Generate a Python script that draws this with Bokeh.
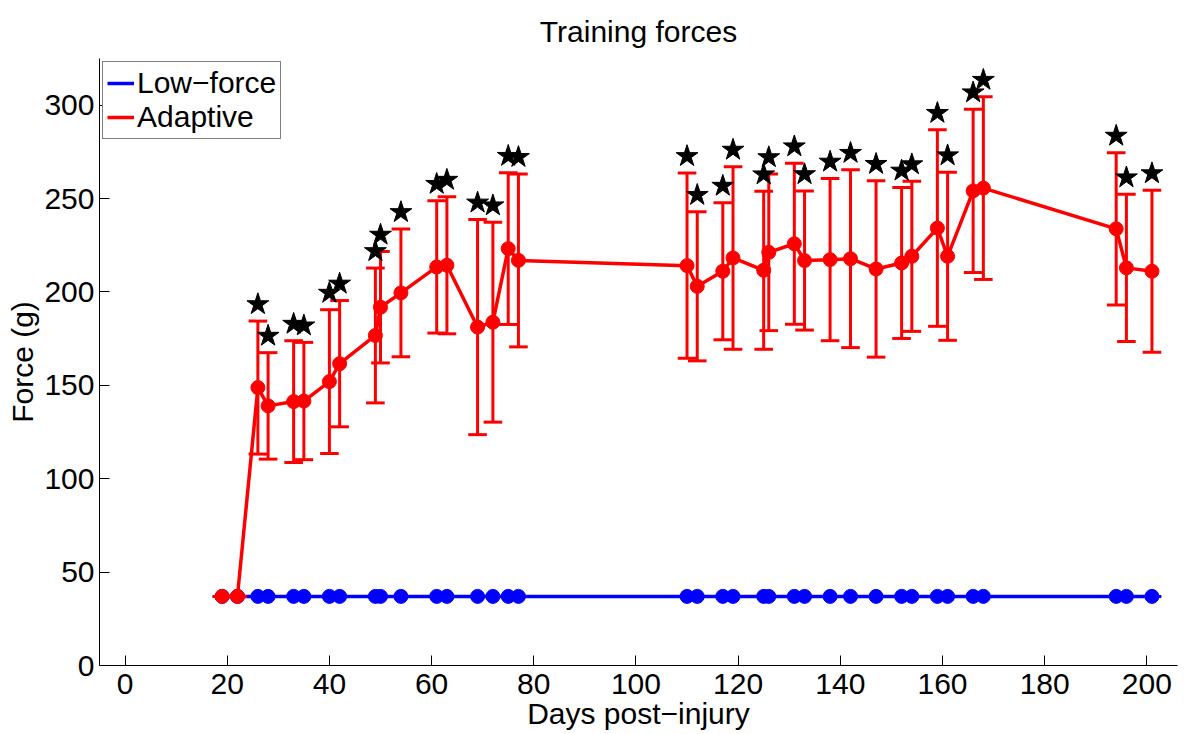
from bokeh.plotting import figure
from bokeh.models import Range1d, FixedTicker, Legend, LegendItem, ColumnDataSource
from bokeh.embed import file_html
from bokeh.resources import INLINE

# Training sessions (days after injury)
days = [19, 22, 26, 28, 33, 35, 40, 42, 49, 50, 54, 61, 63, 69, 72, 75, 77,
        110, 112, 117, 119, 125, 126, 131, 133, 138, 142, 147, 152, 154, 159,
        161, 166, 168, 194, 196, 201]

# Low-force group: fixed training force (g)
low_force_mean = [37, 37, 37, 37, 37, 37, 37, 37, 37, 37, 37, 37, 37, 37, 37,
                  37, 37, 37, 37, 37, 37, 37, 37, 37, 37, 37, 37, 37, 37, 37,
                  37, 37, 37, 37, 37, 37, 37]
low_force_sd = [0, 0, 0, 0, 0, 0, 0, 0, 0, 0, 0, 0, 0, 0, 0, 0, 0, 0, 0, 0,
                0, 0, 0, 0, 0, 0, 0, 0, 0, 0, 0, 0, 0, 0, 0, 0, 0]

# Adaptive group: mean training force and standard deviation (g)
adaptive_mean = [37, 37, 148.8, 139.0, 141.3, 141.6, 152.0, 161.6, 176.7, 191.8,
                 199.5, 213.4, 214.3, 181.2, 183.8, 223.2, 216.9, 214.1, 203.0,
                 211.1, 218.2, 211.6, 221.2, 225.8, 216.8, 217.3, 217.8, 212.3,
                 215.5, 219.1, 234.2, 219.1, 254.1, 255.6, 233.8, 212.9, 211.1]
adaptive_sd = [0, 0, 35.6, 28.5, 32.6, 31.4, 38.5, 33.8, 36.1, 29.8, 34.2, 35.4,
               36.7, 57.6, 53.5, 40.6, 46.3, 49.6, 39.9, 36.7, 48.9, 42.3, 41.9,
               43.1, 37.2, 43.4, 47.6, 47.2, 40.4, 40.2, 52.6, 45.0, 43.7, 48.9,
               40.8, 39.4, 43.4]
# sessions where the groups differ significantly
adaptive_sig = [False, False, True, True, True, True, True, True, True, True,
                True, True, True, True, True, True, True, True, True, True,
                True, True, True, True, True, True, True, True, True, True,
                True, True, True, True, True, True, True]

x_ticks = [0, 20, 40, 60, 80, 100, 120, 140, 160, 180, 200]
y_ticks = [0, 50, 100, 150, 200, 250, 300]

FONT = "Liberation Sans"
FS = "30px"
BLUE = "#0000ff"
RED = "#ff0000"

p = figure(width=1198, height=734, x_range=Range1d(-5, 206), y_range=Range1d(0, 325),
           output_backend="svg", toolbar_location=None,
           min_border_left=99, min_border_right=21, min_border_top=58,
           min_border_bottom=69)

p.title.text = "Training forces"
p.title.text_font = FONT
p.title.text_font_size = FS
p.title.text_font_style = "normal"
p.title.text_color = "black"
p.title.align = "center"
p.title.standoff = 22

p.xgrid.visible = False
p.ygrid.visible = False
p.outline_line_color = None
p.background_fill_color = "white"
p.border_fill_color = "white"

for ax, ticks in ((p.xaxis[0], x_ticks), (p.yaxis[0], y_ticks)):
    ax.ticker = FixedTicker(ticks=ticks)
    ax.major_tick_in = 10
    ax.major_tick_out = 0
    ax.minor_tick_line_color = None
    ax.axis_line_color = "black"
    ax.major_tick_line_color = "black"
    ax.major_label_text_font = FONT
    ax.major_label_text_font_size = FS
    ax.major_label_text_color = "black"
    ax.axis_label_text_font = FONT
    ax.axis_label_text_font_size = FS
    ax.axis_label_text_font_style = "normal"
    ax.axis_label_text_color = "black"

p.xaxis.axis_label = "Days post\u2212injury"
p.yaxis.axis_label = "Force (g)"
p.xaxis.major_label_standoff = 8
p.xaxis.axis_label_standoff = 0
p.yaxis.major_label_standoff = 5
p.yaxis.axis_label_standoff = 2

# error-bar cap half width in days
tee = (max(days) - min(days)) / 100.0


def group(mean, sd, color):
    lower = [m - s for m, s in zip(mean, sd)]
    upper = [m + s for m, s in zip(mean, sd)]
    src = ColumnDataSource(dict(x=days, y=mean, lo=lower, hi=upper,
                                x0=[d - tee for d in days],
                                x1=[d + tee for d in days]))
    p.segment(x0="x", y0="lo", x1="x", y1="hi", source=src, line_color=color, line_width=3)
    p.segment(x0="x0", y0="lo", x1="x1", y1="lo", source=src, line_color=color, line_width=3)
    p.segment(x0="x0", y0="hi", x1="x1", y1="hi", source=src, line_color=color, line_width=3)
    ln = p.line(x="x", y="y", source=src, line_color=color, line_width=3.5)
    p.scatter(x="x", y="y", source=src, size=14, fill_color=color, line_color=color)
    return ln, upper


low_line, _ = group(low_force_mean, low_force_sd, BLUE)
ada_line, ada_upper = group(adaptive_mean, adaptive_sd, RED)

# significance stars just above the upper error bar
star_gap = 9
star_x = [d for d, s in zip(days, adaptive_sig) if s]
star_y = [u + star_gap for u, s in zip(ada_upper, adaptive_sig) if s]
p.scatter(star_x, star_y, marker="star", size=23, fill_color="black", line_color="black")

legend = Legend(items=[LegendItem(label="Low\u2212force", renderers=[low_line]),
                       LegendItem(label="Adaptive", renderers=[ada_line])],
                location="top_left")
legend.label_text_font = FONT
legend.label_text_font_size = FS
legend.label_text_color = "black"
legend.border_line_color = "black"
legend.border_line_width = 1
legend.background_fill_color = "white"
legend.background_fill_alpha = 1.0
legend.margin = 3
legend.padding = 4
legend.spacing = 0
legend.glyph_width = 27
legend.glyph_height = 34
legend.label_height = 34
legend.label_standoff = 3
p.add_layout(legend)

open("out.html", "w").write(file_html(p, INLINE))
